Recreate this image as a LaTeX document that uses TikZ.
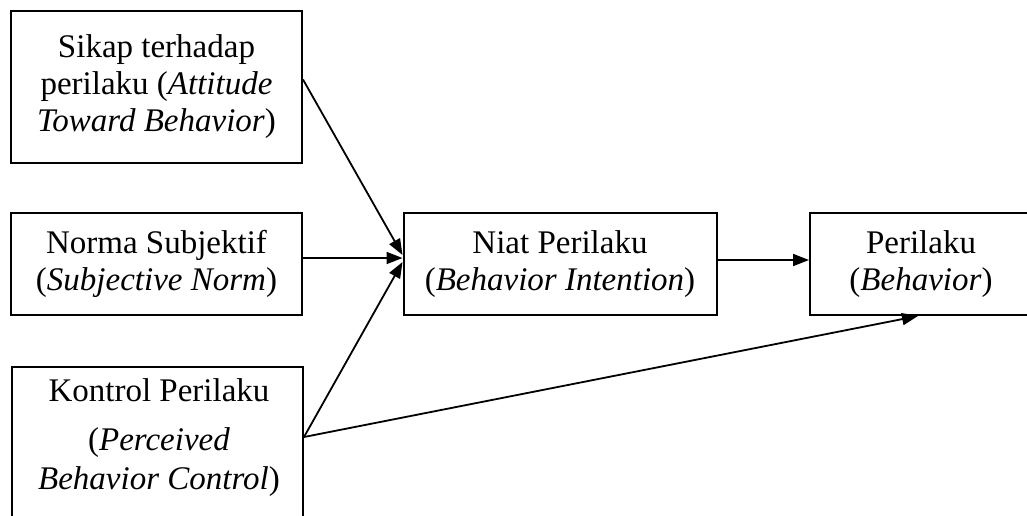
\documentclass[tikz,border=0pt]{standalone}
\usepackage{fontspec}
\setmainfont{Liberation Serif}
\usetikzlibrary{arrows.meta}
\begin{document}
\begin{tikzpicture}[x=1pt,y=-1pt,
  box/.style={draw,line width=2pt,rectangle,inner sep=0pt,align=center,
    font=\fontsize{33}{37}\selectfont},
  txt/.style={inner sep=0pt,align=center,font=\fontsize{33}{37}\selectfont},
  conn/.style={line width=1.8pt,-{Triangle[length=16pt,width=12pt]}}]
\useasboundingbox (0,0) rectangle (1027,515);
\clip (0,0) rectangle (1027,515);
\node[box,minimum width=291pt,minimum height=152pt] (a) at (156.5,86.5)
  {Sikap terhadap\\perilaku (\textit{Attitude}\\\textit{Toward Behavior})};
\node[box,minimum width=291pt,minimum height=102pt] (b) at (156.5,264)
  {Norma Subjektif\\(\textit{Subjective Norm})};
\node[box,anchor=north west,minimum width=291pt,minimum height=180pt] (c) at (11,366) {};
\node[txt] (ct) at (159,438)
  {Kontrol Perilaku\\[12pt](\textit{Perceived}\\[2pt]\textit{Behavior Control})};
\node[box,minimum width=313pt,minimum height=102pt] (d) at (560,264)
  {Niat Perilaku\\(\textit{Behavior Intention})};
\node[box,minimum width=222pt,minimum height=102pt] (e) at (921,264)
  {Perilaku\\(\textit{Behavior})};
\coordinate (cs) at (c.east |- 0,437);
\draw[conn] ([yshift=7pt]a.east) -- ([yshift=9pt]d.west);
\draw[conn] ([yshift=6pt]b.east) -- ([yshift=6pt]d.west);
\draw[conn] (cs) -- ([yshift=2pt]d.west);
\draw[conn] ([yshift=4pt]d.east) -- ([yshift=4pt]e.west);
\draw[conn] (cs) -- ([xshift=-3pt]e.south);
\end{tikzpicture}
\end{document}
